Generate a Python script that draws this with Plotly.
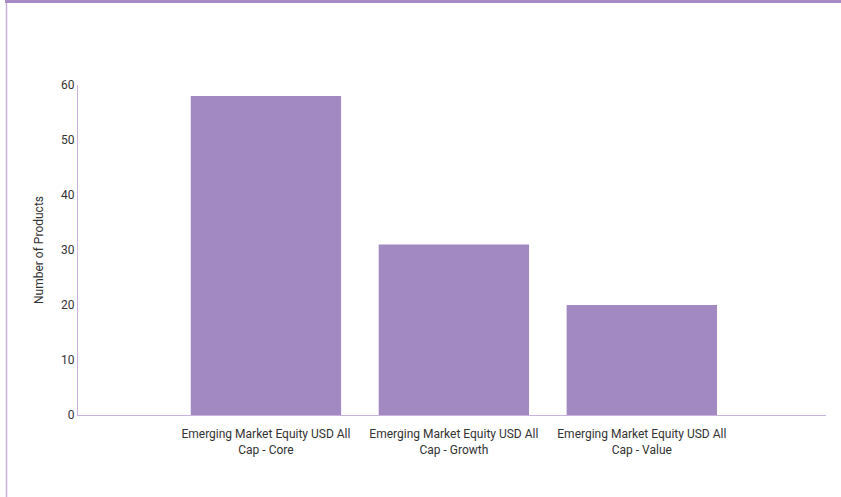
import plotly.graph_objects as go

categories = ["Emerging Market Equity USD All<br>Cap - Core",
              "Emerging Market Equity USD All<br>Cap - Growth",
              "Emerging Market Equity USD All<br>Cap - Value"]
values = [58, 31, 20]
y_ticks = [0, 10, 20, 30, 40, 50, 60]

W, H = 841, 497
L, R, T, B = 78, 15, 85, 82
pw, ph = W - L - R, H - T - B

def px(x):
    return (x - L) / pw

def py(y):
    return (H - B - y) / ph

FONT = "Roboto, sans-serif"

fig = go.Figure(go.Bar(
    x=[0, 1, 2], y=values,
    marker=dict(color="#a389c1", line=dict(width=0)),
    width=0.8,
    hoverinfo="y",
))

fig.update_layout(
    width=W, height=H,
    margin=dict(l=L, r=R, t=T, b=B),
    paper_bgcolor="white", plot_bgcolor="white",
    font=dict(family=FONT, size=12, color="#333333"),
    showlegend=False,
    xaxis=dict(range=[-1.0, 2.98], tickvals=[0, 1, 2], ticktext=categories,
               showgrid=False, zeroline=False, showline=True,
               linecolor="#c9b3de", linewidth=1, ticks="",
               ticklabelstandoff=8,
               tickfont=dict(size=12, color="#333333")),
    yaxis=dict(range=[0, 60], tickvals=y_ticks, showgrid=False, zeroline=False,
               showline=True, linecolor="#c9b3de", linewidth=1, ticks="",
               tickfont=dict(size=12, color="#333333"),
               title=dict(text="Number of Products", font=dict(size=12, color="#333333"), standoff=14)),
    shapes=[
        dict(type="rect", xref="paper", yref="paper",
             x0=px(5), x1=px(841), y0=py(3), y1=py(0),
             fillcolor="#a98bc4", line=dict(width=0)),
        dict(type="line", xref="paper", yref="paper",
             x0=px(6.5), x1=px(6.5), y0=py(3), y1=py(497),
             line=dict(color="#c9b3de", width=1.5)),
    ],
)

fig.write_html("out.html", config={"displayModeBar": False})

with open("out.html", encoding="utf-8") as f:
    html = f.read()
html = html.replace("<head>", "<head><style>html,body{margin:0;padding:0;overflow:hidden;}</style>", 1)
with open("out.html", "w", encoding="utf-8") as f:
    f.write(html)
